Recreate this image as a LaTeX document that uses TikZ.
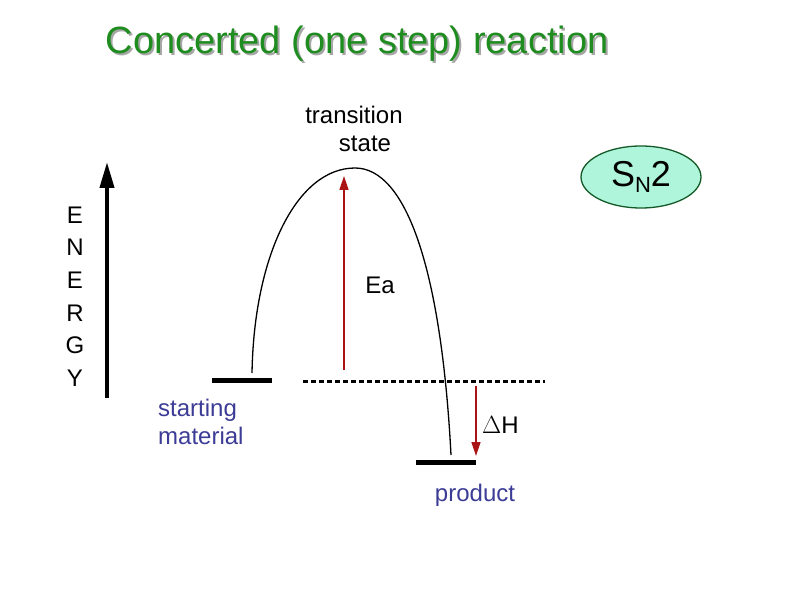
\documentclass[tikz,border=0pt]{standalone}
\usepackage{fontspec}
\setmainfont{Liberation Sans}
\usetikzlibrary{arrows.meta,shapes.geometric}
\definecolor{titlegreen}{RGB}{30,140,30}
\definecolor{lblblue}{RGB}{60,60,150}
\definecolor{arrred}{RGB}{170,20,20}
\definecolor{snfill}{RGB}{175,245,220}
\definecolor{sndraw}{RGB}{20,90,40}
\tikzset{
  lbl/.style={inner sep=0pt,font=\fontsize{24}{28}\selectfont},
  levelbar/.style={line width=5pt},
  redarrow/.style={arrred,line width=1.6pt,-{Triangle[length=14pt,width=9pt]}},
}
\begin{document}
\begin{tikzpicture}[x=1pt,y=-1pt]
\useasboundingbox (0,0) rectangle (792,612);
% title
\node[inner sep=0pt,gray!70,font=\fontsize{38}{42}\selectfont] at (359,46) {Concerted (one step) reaction};
\node[inner sep=0pt,titlegreen,font=\fontsize{38}{42}\selectfont] (title) at (357,44) {Concerted (one step) reaction};
% energy axis
\coordinate (ebot) at (107,398);
\coordinate (etop) at (107,162);
\draw[line width=4pt,-{Triangle[length=26pt,width=14pt]}] (ebot) -- (etop);
\foreach \ch [count=\i] in {E,N,E,R,G,Y}
  \node[lbl] (en\i) at (75,{215+32.6*(\i-1)}) {\ch};
% levels
\coordinate (sm1) at (212,380); \coordinate (sm2) at (272,380);
\draw[levelbar] (sm1) -- (sm2);
\coordinate (pr1) at (416,462); \coordinate (pr2) at (476,462);
\draw[levelbar] (pr1) -- (pr2);
\coordinate (d1) at (303,381); \coordinate (d2) at (545,381);
\draw[line width=3pt,dash pattern=on 5pt off 3pt] (d1) -- (d2);
% curve
\coordinate (cs) at (252,373);
\coordinate (peak) at (355,168);
\coordinate (ce) at (451,455);
\draw[line width=1.3pt] (cs) .. controls (254,255) and (297,168) .. (peak)
  .. controls (405,168) and (441,265) .. (ce);
% red arrows
\coordinate (ea1) at (344,370); \coordinate (ea2) at (344,176);
\draw[redarrow] (ea1) -- (ea2);
\coordinate (dh1) at (476,386); \coordinate (dh2) at (476,456);
\draw[redarrow] (dh1) -- (dh2);
% labels
\node[lbl,align=center] (ts) at (354,129) {transition\\\hspace*{22pt}state};
\node[lbl] (ea) at (380,285) {Ea};
\node[lbl,anchor=west] (dh) at (482,425) {$\Delta$H};
\node[lbl,lblblue,align=left,anchor=west] (sm) at (158,422) {starting\\material};
\node[lbl,lblblue] (prod) at (475,495) {product};
% SN2
\node[ellipse,draw=sndraw,line width=1.3pt,fill=snfill,minimum width=120pt,minimum height=62pt,inner sep=0pt,font=\fontsize{36}{40}\selectfont] (sn2) at (641,177) {S\raisebox{-6pt}{\fontsize{22}{24}\selectfont N}2};
\end{tikzpicture}
\end{document}
